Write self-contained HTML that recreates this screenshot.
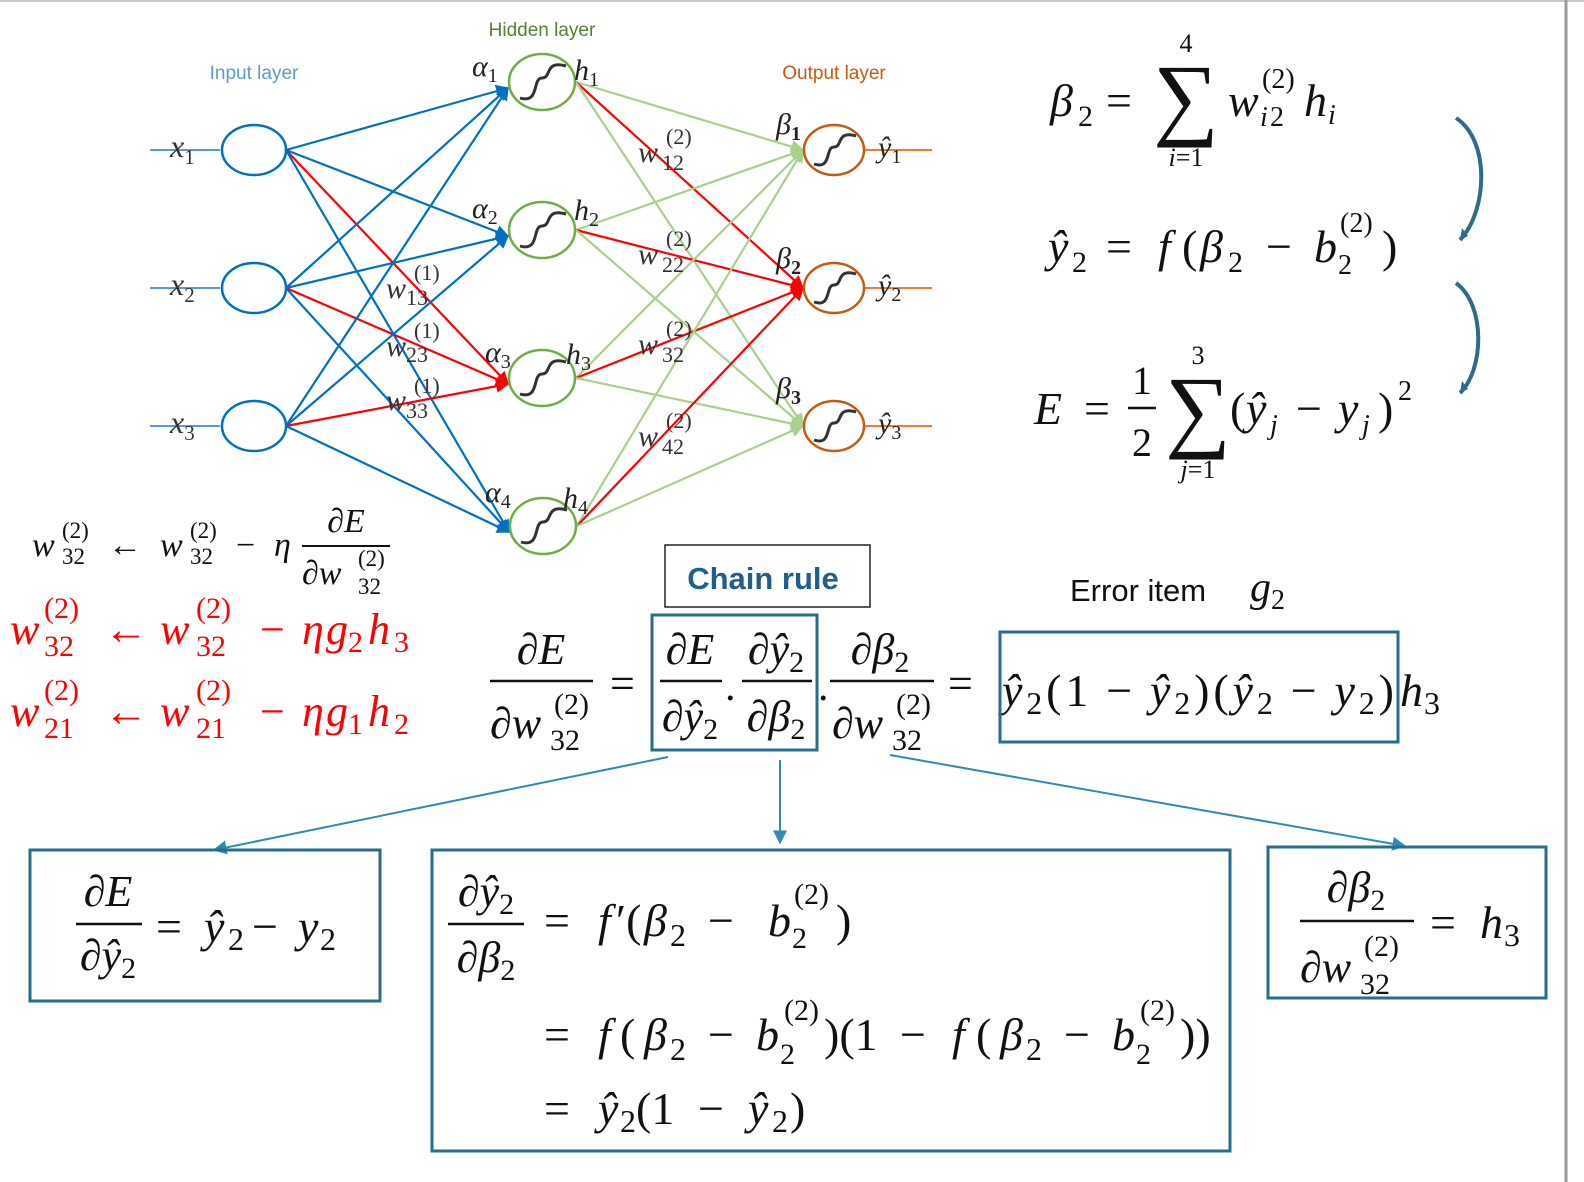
<!DOCTYPE html>
<html><head><meta charset="utf-8">
<style>
html,body{margin:0;padding:0;background:#fff;}
svg{display:block;}
.m{font-family:"Liberation Serif","DejaVu Serif",serif;font-style:italic;}
.r{font-family:"Liberation Serif","DejaVu Serif",serif;font-style:normal;}
.s{font-family:"Liberation Sans","DejaVu Sans",sans-serif;}
</style></head><body>
<svg id="fig" width="1584" height="1182" viewBox="0 0 1584 1182" xmlns="http://www.w3.org/2000/svg">
<defs>
<marker id="ab" viewBox="0 0 10 10" refX="9" refY="5" markerWidth="6" markerHeight="6" orient="auto"><path d="M0,0L10,5L0,10z" fill="#0070c0"/></marker>
<marker id="ar" viewBox="0 0 10 10" refX="9" refY="5" markerWidth="6" markerHeight="6" orient="auto"><path d="M0,0L10,5L0,10z" fill="#ff0000"/></marker>
<marker id="ag" viewBox="0 0 10 10" refX="9" refY="5" markerWidth="6" markerHeight="6" orient="auto"><path d="M0,0L10,5L0,10z" fill="#a9d18e"/></marker>
<marker id="at" viewBox="0 0 10 10" refX="9" refY="5" markerWidth="7" markerHeight="7" orient="auto"><path d="M0,0L10,5L0,10z" fill="#2e8bb5"/></marker>
</defs>
<line x1="0" y1="1" x2="1584" y2="1" stroke="#c8c8c8" stroke-width="2"/>
<line x1="1566" y1="0" x2="1566" y2="1182" stroke="#9a9a9a" stroke-width="3"/>

<g id="edges"></g>
<g id="nodes"></g>

<text x="254" y="79" class="s" font-size="19" fill="#5b9bd5" text-anchor="middle">Input layer</text>
<text x="542" y="36" class="s" font-size="19" fill="#548235" text-anchor="middle">Hidden layer</text>
<text x="834" y="79" class="s" font-size="19" fill="#c55a11" text-anchor="middle">Output layer</text>

<g class="m" font-size="32" fill="#333">
<text x="170" y="157">x<tspan font-size="21" dy="7" class="r">1</tspan></text>
<text x="170" y="295">x<tspan font-size="21" dy="7" class="r">2</tspan></text>
<text x="170" y="433">x<tspan font-size="21" dy="7" class="r">3</tspan></text>
</g>
<g class="m" font-size="30" fill="#222">
<text x="472" y="76">α<tspan font-size="20" dy="6" class="r">1</tspan></text>
<text x="574" y="80">h<tspan font-size="20" dy="6" class="r">1</tspan></text>
<text x="472" y="218">α<tspan font-size="20" dy="6" class="r">2</tspan></text>
<text x="574" y="220">h<tspan font-size="20" dy="6" class="r">2</tspan></text>
<text x="485" y="362">α<tspan font-size="20" dy="6" class="r">3</tspan></text>
<text x="566" y="364">h<tspan font-size="20" dy="6" class="r">3</tspan></text>
<text x="485" y="502">α<tspan font-size="20" dy="6" class="r">4</tspan></text>
<text x="563" y="508">h<tspan font-size="20" dy="6" class="r">4</tspan></text>
<text x="776" y="134">β<tspan font-size="20" dy="6" class="r" font-weight="bold">1</tspan></text>
<text x="776" y="268">β<tspan font-size="20" dy="6" class="r" font-weight="bold">2</tspan></text>
<text x="776" y="398">β<tspan font-size="20" dy="6" class="r" font-weight="bold">3</tspan></text>
<text x="878" y="157">ŷ<tspan font-size="20" dy="6" class="r">1</tspan></text>
<text x="878" y="295">ŷ<tspan font-size="20" dy="6" class="r">2</tspan></text>
<text x="878" y="433">ŷ<tspan font-size="20" dy="6" class="r">3</tspan></text>
</g>
<g fill="#333">
<text class="m" font-size="30"><tspan x="386" y="298">w</tspan><tspan class="r" font-size="22" x="414" y="280">(1)</tspan><tspan class="r" font-size="22" x="406" y="305">13</tspan></text>
<text class="m" font-size="30"><tspan x="386" y="356">w</tspan><tspan class="r" font-size="22" x="414" y="338">(1)</tspan><tspan class="r" font-size="22" x="406" y="362">23</tspan></text>
<text class="m" font-size="30"><tspan x="386" y="410">w</tspan><tspan class="r" font-size="22" x="414" y="393">(1)</tspan><tspan class="r" font-size="22" x="406" y="418">33</tspan></text>
<text class="m" font-size="30"><tspan x="638" y="162">w</tspan><tspan class="r" font-size="22" x="666" y="144">(2)</tspan><tspan class="r" font-size="22" x="662" y="170">12</tspan></text>
<text class="m" font-size="30"><tspan x="638" y="264">w</tspan><tspan class="r" font-size="22" x="666" y="246">(2)</tspan><tspan class="r" font-size="22" x="662" y="272">22</tspan></text>
<text class="m" font-size="30"><tspan x="638" y="354">w</tspan><tspan class="r" font-size="22" x="666" y="336">(2)</tspan><tspan class="r" font-size="22" x="662" y="362">32</tspan></text>
<text class="m" font-size="30"><tspan x="638" y="446">w</tspan><tspan class="r" font-size="22" x="666" y="428">(2)</tspan><tspan class="r" font-size="22" x="662" y="454">42</tspan></text>
</g>

<!-- right formulas -->
<g fill="#111">
<text class="m" font-size="46"><tspan x="1050" y="116">β</tspan><tspan class="r" font-size="30" x="1078" y="126">2</tspan><tspan class="r" x="1106" y="116">=</tspan><tspan x="1228" y="116">w</tspan><tspan class="r" font-size="28" x="1262" y="88">(2)</tspan><tspan font-size="28" x="1260" y="126">i</tspan><tspan class="r" font-size="28" x="1270" y="126">2</tspan><tspan x="1304" y="116">h</tspan><tspan font-size="28" x="1328" y="124">i</tspan></text>
<text x="1186" y="128" class="r" font-size="92" text-anchor="middle">∑</text>
<text x="1186" y="52" class="r" font-size="26" text-anchor="middle">4</text>
<text x="1186" y="166" class="m" font-size="26" text-anchor="middle">i<tspan class="r">=1</tspan></text>
</g>
<g fill="#111">
<text class="m" font-size="46"><tspan x="1048" y="262">ŷ</tspan><tspan class="r" font-size="30" x="1072" y="272">2</tspan><tspan class="r" x="1106" y="262">=</tspan><tspan x="1158" y="262">f</tspan><tspan class="r" x="1182" y="262">(</tspan><tspan x="1200" y="262">β</tspan><tspan class="r" font-size="30" x="1228" y="272">2</tspan><tspan class="r" x="1266" y="262">−</tspan><tspan x="1314" y="262">b</tspan><tspan class="r" font-size="28" x="1340" y="232">(2)</tspan><tspan class="r" font-size="28" x="1338" y="274">2</tspan><tspan class="r" x="1382" y="262">)</tspan></text>
</g>
<g fill="#111">
<text class="m" font-size="46"><tspan x="1034" y="424">E</tspan><tspan class="r" x="1084" y="424">=</tspan></text>
<text x="1142" y="394" class="r" font-size="40" text-anchor="middle">1</text>
<line x1="1128" y1="408" x2="1156" y2="408" stroke="#111" stroke-width="2.5"/>
<text x="1142" y="456" class="r" font-size="40" text-anchor="middle">2</text>
<text x="1198" y="440" class="r" font-size="92" text-anchor="middle">∑</text>
<text x="1198" y="364" class="r" font-size="26" text-anchor="middle">3</text>
<text x="1198" y="478" class="m" font-size="26" text-anchor="middle">j<tspan class="r">=1</tspan></text>
<text class="m" font-size="46"><tspan class="r" x="1230" y="424">(</tspan><tspan x="1246" y="424">ŷ</tspan><tspan font-size="28" x="1270" y="434">j</tspan><tspan class="r" x="1296" y="424">−</tspan><tspan x="1338" y="424">y</tspan><tspan font-size="28" x="1362" y="434">j</tspan><tspan class="r" x="1378" y="424">)</tspan><tspan class="r" font-size="28" x="1398" y="400">2</tspan></text>
</g>
<path d="M1456,118 C1490,140 1488,210 1460,240" fill="none" stroke="#2e6c8a" stroke-width="4"/>
<path d="M1460,240 l2,-12 l6,8z" fill="#2e6c8a"/>
<path d="M1456,283 C1486,305 1484,370 1460,393" fill="none" stroke="#2e6c8a" stroke-width="4"/>
<path d="M1460,393 l2,-12 l6,8z" fill="#2e6c8a"/>

<!-- left update rules -->
<g fill="#111">
<text class="m" font-size="34"><tspan x="32" y="556">w</tspan><tspan class="r" font-size="23" x="62" y="538">(2)</tspan><tspan class="r" font-size="23" x="62" y="564">32</tspan><tspan class="r" x="108" y="556">←</tspan><tspan x="160" y="556">w</tspan><tspan class="r" font-size="23" x="190" y="538">(2)</tspan><tspan class="r" font-size="23" x="190" y="564">32</tspan><tspan class="r" x="236" y="556">−</tspan><tspan x="274" y="556">η</tspan></text>
<text x="346" y="532" class="m" font-size="34" text-anchor="middle">∂E</text>
<line x1="302" y1="546" x2="390" y2="546" stroke="#111" stroke-width="2"/>
<text class="m" font-size="34"><tspan x="302" y="584">∂w</tspan><tspan class="r" font-size="23" x="358" y="566">(2)</tspan><tspan class="r" font-size="23" x="358" y="594">32</tspan></text>
</g>
<g fill="#ff0000">
<text class="m" font-size="44"><tspan x="10" y="644">w</tspan><tspan class="r" font-size="30" x="44" y="618">(2)</tspan><tspan class="r" font-size="30" x="44" y="656">32</tspan><tspan class="r" x="104" y="644">←</tspan><tspan x="160" y="644">w</tspan><tspan class="r" font-size="30" x="196" y="618">(2)</tspan><tspan class="r" font-size="30" x="196" y="656">32</tspan><tspan class="r" x="260" y="644">−</tspan><tspan x="302" y="644">η</tspan><tspan x="326" y="644">g</tspan><tspan class="r" font-size="30" x="348" y="652">2</tspan><tspan x="368" y="644">h</tspan><tspan class="r" font-size="30" x="394" y="652">3</tspan></text>
</g>
<g fill="#ff0000">
<text class="m" font-size="44"><tspan x="10" y="726">w</tspan><tspan class="r" font-size="30" x="44" y="700">(2)</tspan><tspan class="r" font-size="30" x="44" y="738">21</tspan><tspan class="r" x="104" y="726">←</tspan><tspan x="160" y="726">w</tspan><tspan class="r" font-size="30" x="196" y="700">(2)</tspan><tspan class="r" font-size="30" x="196" y="738">21</tspan><tspan class="r" x="260" y="726">−</tspan><tspan x="302" y="726">η</tspan><tspan x="326" y="726">g</tspan><tspan class="r" font-size="30" x="348" y="734">1</tspan><tspan x="368" y="726">h</tspan><tspan class="r" font-size="30" x="394" y="734">2</tspan></text>
</g>

<!-- chain rule -->
<rect x="665" y="545" width="205" height="62" fill="#fff" stroke="#222" stroke-width="1.5"/>
<text x="763" y="589" class="s" font-size="31" font-weight="bold" fill="#1f5f8b" text-anchor="middle">Chain rule</text>
<text x="1070" y="601" class="s" font-size="31" fill="#111">Error item <tspan class="m" font-size="42" x="1250">g</tspan><tspan class="r" font-size="28" dy="8">2</tspan></text>

<g fill="#111">
<text x="541" y="664" class="m" font-size="44" text-anchor="middle">∂E</text>
<line x1="490" y1="681" x2="593" y2="681" stroke="#111" stroke-width="2.5"/>
<text class="m" font-size="44"><tspan x="490" y="738">∂w</tspan><tspan class="r" font-size="30" x="554" y="714">(2)</tspan><tspan class="r" font-size="30" x="550" y="750">32</tspan></text>
<text x="610" y="698" class="r" font-size="44">=</text>
<text x="690" y="664" class="m" font-size="44" text-anchor="middle">∂E</text>
<line x1="660" y1="681" x2="722" y2="681" stroke="#111" stroke-width="2.5"/>
<text x="690" y="731" class="m" font-size="44" text-anchor="middle">∂ŷ<tspan class="r" font-size="30" dy="8">2</tspan></text>
<text x="725" y="700" class="r" font-size="42">.</text>
<text x="776" y="664" class="m" font-size="44" text-anchor="middle">∂ŷ<tspan class="r" font-size="30" dy="8">2</tspan></text>
<line x1="742" y1="681" x2="812" y2="681" stroke="#111" stroke-width="2.5"/>
<text x="776" y="731" class="m" font-size="44" text-anchor="middle">∂β<tspan class="r" font-size="30" dy="8">2</tspan></text>
<text x="818" y="700" class="r" font-size="42">.</text>
<text x="880" y="664" class="m" font-size="44" text-anchor="middle">∂β<tspan class="r" font-size="30" dy="8">2</tspan></text>
<line x1="830" y1="681" x2="934" y2="681" stroke="#111" stroke-width="2.5"/>
<text class="m" font-size="44"><tspan x="832" y="738">∂w</tspan><tspan class="r" font-size="30" x="896" y="714">(2)</tspan><tspan class="r" font-size="30" x="892" y="750">32</tspan></text>
<text x="948" y="698" class="r" font-size="44">=</text>
<text x="1002" y="706" class="m" font-size="46" textLength="392" lengthAdjust="spacing">ŷ<tspan class="r" font-size="32" dy="8">2</tspan><tspan class="r" dy="-8">(1</tspan><tspan class="r" dx="14">−</tspan><tspan dx="14">ŷ</tspan><tspan class="r" font-size="32" dy="8">2</tspan><tspan class="r" dy="-8">)(</tspan>ŷ<tspan class="r" font-size="32" dy="8">2</tspan><tspan class="r" dx="14" dy="-8">−</tspan><tspan dx="14">y</tspan><tspan class="r" font-size="32" dy="8">2</tspan><tspan class="r" dy="-8">)</tspan></text>
<text class="m" font-size="46"><tspan x="1400" y="706">h</tspan><tspan class="r" font-size="32" x="1424" y="714">3</tspan></text>
</g>
<rect x="652" y="615" width="165" height="135" fill="none" stroke="#276d8c" stroke-width="3"/>
<rect x="1000" y="632" width="398" height="110" fill="none" stroke="#276d8c" stroke-width="3"/>

<line x1="668" y1="757" x2="214" y2="850" stroke="#2e8bb5" stroke-width="2" marker-end="url(#at)"/>
<line x1="780" y1="760" x2="780" y2="843" stroke="#2e8bb5" stroke-width="2" marker-end="url(#at)"/>
<line x1="890" y1="755" x2="1405" y2="846" stroke="#2e8bb5" stroke-width="2" marker-end="url(#at)"/>

<!-- bottom boxes -->
<rect x="30" y="850" width="350" height="151" fill="none" stroke="#276d8c" stroke-width="3"/>
<g fill="#111">
<text x="108" y="906" class="m" font-size="44" text-anchor="middle">∂E</text>
<line x1="76" y1="924" x2="142" y2="924" stroke="#111" stroke-width="2.5"/>
<text x="108" y="970" class="m" font-size="44" text-anchor="middle">∂ŷ<tspan class="r" font-size="30" dy="8">2</tspan></text>
<text class="m" font-size="46"><tspan class="r" x="156" y="942">=</tspan><tspan x="204" y="942">ŷ</tspan><tspan class="r" font-size="32" x="228" y="950">2</tspan><tspan class="r" x="252" y="942">−</tspan><tspan x="298" y="942">y</tspan><tspan class="r" font-size="32" x="320" y="950">2</tspan></text>
</g>
<rect x="432" y="850" width="798" height="301" fill="none" stroke="#276d8c" stroke-width="3"/>
<g fill="#111">
<text x="486" y="906" class="m" font-size="44" text-anchor="middle">∂ŷ<tspan class="r" font-size="30" dy="8">2</tspan></text>
<line x1="448" y1="924" x2="524" y2="924" stroke="#111" stroke-width="2.5"/>
<text x="486" y="972" class="m" font-size="44" text-anchor="middle">∂β<tspan class="r" font-size="30" dy="8">2</tspan></text>
<text class="m" font-size="46"><tspan class="r" x="544" y="936">=</tspan><tspan x="598" y="936">f</tspan><tspan class="r" x="616" y="936">′(</tspan><tspan x="644" y="936">β</tspan><tspan class="r" font-size="32" x="670" y="946">2</tspan><tspan class="r" x="708" y="936">−</tspan><tspan x="768" y="936">b</tspan><tspan class="r" font-size="30" x="794" y="904">(2)</tspan><tspan class="r" font-size="30" x="792" y="948">2</tspan><tspan class="r" x="836" y="936">)</tspan></text>
<text class="m" font-size="46"><tspan class="r" x="544" y="1050">=</tspan><tspan x="598" y="1050">f</tspan><tspan class="r" x="620" y="1050">(</tspan><tspan x="644" y="1050">β</tspan><tspan class="r" font-size="32" x="670" y="1060">2</tspan><tspan class="r" x="708" y="1050">−</tspan><tspan x="756" y="1050">b</tspan><tspan class="r" font-size="30" x="784" y="1020">(2)</tspan><tspan class="r" font-size="30" x="780" y="1064">2</tspan><tspan class="r" x="824" y="1050">)(1</tspan><tspan class="r" x="900" y="1050">−</tspan><tspan x="952" y="1050">f</tspan><tspan class="r" x="976" y="1050">(</tspan><tspan x="1000" y="1050">β</tspan><tspan class="r" font-size="32" x="1026" y="1060">2</tspan><tspan class="r" x="1064" y="1050">−</tspan><tspan x="1112" y="1050">b</tspan><tspan class="r" font-size="30" x="1140" y="1020">(2)</tspan><tspan class="r" font-size="30" x="1136" y="1064">2</tspan><tspan class="r" x="1180" y="1050">))</tspan></text>
<text class="m" font-size="46"><tspan class="r" x="544" y="1124">=</tspan><tspan x="598" y="1124">ŷ</tspan><tspan class="r" font-size="32" x="620" y="1132">2</tspan><tspan class="r" x="636" y="1124">(1</tspan><tspan class="r" x="698" y="1124">−</tspan><tspan x="748" y="1124">ŷ</tspan><tspan class="r" font-size="32" x="772" y="1132">2</tspan><tspan class="r" x="790" y="1124">)</tspan></text>
</g>
<rect x="1268" y="847" width="278" height="151" fill="none" stroke="#276d8c" stroke-width="3"/>
<g fill="#111">
<text x="1356" y="902" class="m" font-size="44" text-anchor="middle">∂β<tspan class="r" font-size="30" dy="8">2</tspan></text>
<line x1="1300" y1="921" x2="1414" y2="921" stroke="#111" stroke-width="2.5"/>
<text class="m" font-size="44"><tspan x="1300" y="982">∂w</tspan><tspan class="r" font-size="30" x="1364" y="956">(2)</tspan><tspan class="r" font-size="30" x="1360" y="994">32</tspan></text>
<text class="m" font-size="46"><tspan class="r" x="1430" y="938">=</tspan><tspan x="1480" y="938">h</tspan><tspan class="r" font-size="32" x="1504" y="946">3</tspan></text>
</g>
</svg>
<script>
const inputNodes=[[254,150],[254,288],[254,426]];
const hiddenNodes=[[542,82],[542,230],[542,378],[543,526]];
const outputNodes=[[834,150],[834,288],[834,426]];
const redHidden=2; // edges into h3 are red
const redOutput=1; // edges into y2 are red
const NS="http://www.w3.org/2000/svg";
const eg=document.getElementById('edges'), ng=document.getElementById('nodes');
function mk(tag,attrs,parent){const e=document.createElementNS(NS,tag);for(const k in attrs)e.setAttribute(k,attrs[k]);parent.appendChild(e);return e;}
inputNodes.forEach((a,i)=>{
  const ar=mk('line',{x1:150,y1:a[1],x2:220,y2:a[1],stroke:'#5b9bd5','stroke-width':2},eg);
  
  
  hiddenNodes.forEach((b,j)=>{
    const red=j===redHidden;
    const l=mk('line',{x1:a[0]+32,y1:a[1],x2:b[0]-34,y2:b[1]+6,stroke:red?'#ff0000':'#0070c0','stroke-width':2.2,'marker-end':red?'url(#ar)':'url(#ab)'},eg);
    
    
  });
});
hiddenNodes.forEach((a,i)=>{
  outputNodes.forEach((b,j)=>{
    const red=j===redOutput;
    const l=mk('line',{x1:a[0]+34,y1:a[1],x2:b[0]-31,y2:b[1],stroke:red?'#ff0000':'#a9d18e','stroke-width':2.2,'marker-end':red?'url(#ar)':'url(#ag)'},eg);
    
    
  });
});
outputNodes.forEach(a=>{
  const l=mk('line',{x1:a[0]+30,y1:a[1],x2:932,y2:a[1],stroke:'#ed7d31','stroke-width':2},eg);
  
  
});
inputNodes.forEach(c=>{
  const e=mk('ellipse',{cx:c[0],cy:c[1],rx:32,ry:25,fill:'#fff',stroke:'#0070c0','stroke-width':2.5},ng);
  
  
});
hiddenNodes.forEach(c=>{
  const e=mk('ellipse',{cx:c[0],cy:c[1],rx:33,ry:28,fill:'#fff',stroke:'#70ad47','stroke-width':2.5},ng);
  
  
  const p=mk('path',{d:`M${c[0]-22},${c[1]+16} C${c[0]-2},${c[1]+22} ${c[0]-10},${c[1]-4} ${c[0]},${c[1]-4} S${c[0]+2},${c[1]-22} ${c[0]+24},${c[1]-16}`,fill:'none',stroke:'#333','stroke-width':3},ng);
  
  
});
outputNodes.forEach(c=>{
  const e=mk('ellipse',{cx:c[0],cy:c[1],rx:30,ry:25,fill:'#fff',stroke:'#c55a11','stroke-width':2.5},ng);
  
  
  const p=mk('path',{d:`M${c[0]-20},${c[1]+14} C${c[0]-2},${c[1]+20} ${c[0]-9},${c[1]-3} ${c[0]},${c[1]-3} S${c[0]+2},${c[1]-20} ${c[0]+22},${c[1]-14}`,fill:'none',stroke:'#333','stroke-width':3},ng);
  
  
});
</script>
</body></html>
